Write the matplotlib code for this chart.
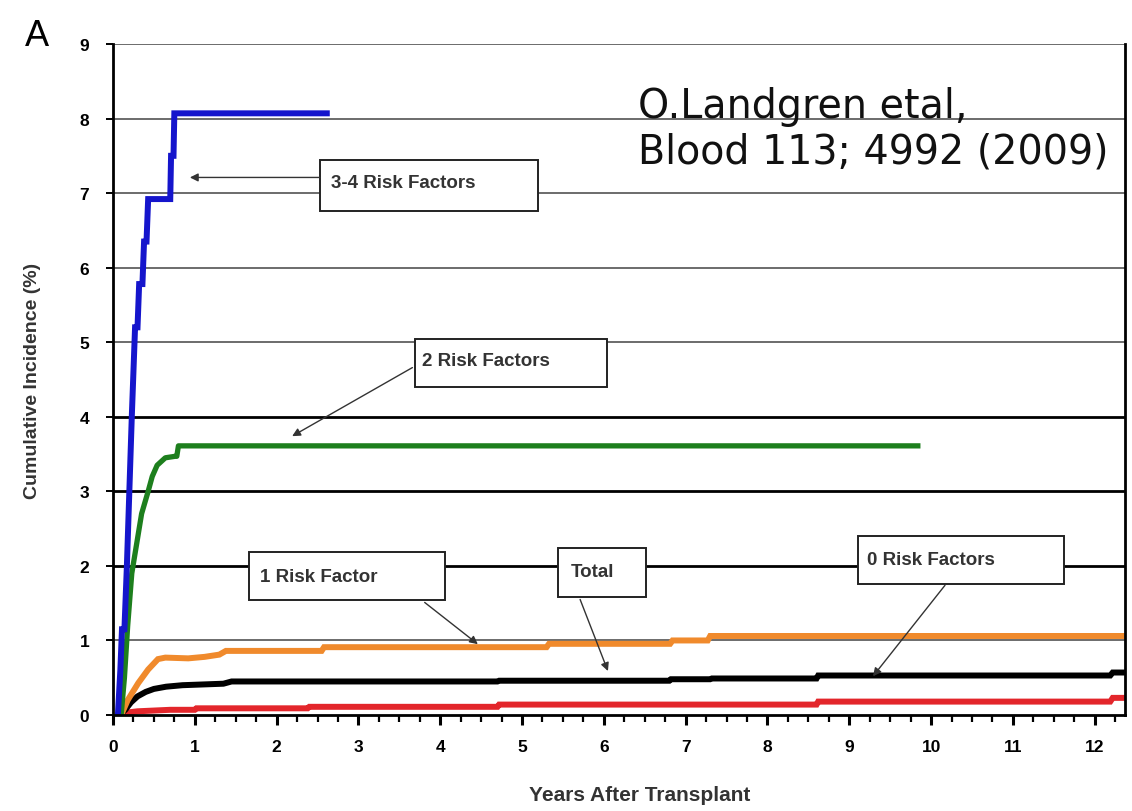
import numpy as np
import matplotlib
matplotlib.use('Agg')
import matplotlib.pyplot as plt
from matplotlib.patches import Rectangle
from matplotlib.ticker import MultipleLocator

# cumulative incidence (%) by years after transplant
rf34_t = [0.06, 0.09, 0.11, 0.14, 0.17, 0.20, 0.23, 0.27, 0.30, 0.32, 0.36, 0.38, 0.41, 0.43, 0.70, 0.71, 0.74, 0.75, 2.65]
rf34_y = [0.0, 0.6, 1.15, 1.15, 2.0, 3.0, 4.0, 5.2, 5.2, 5.78, 5.78, 6.35, 6.35, 6.92, 6.92, 7.5, 7.5, 8.07, 8.07]

rf2_t = [0.10, 0.14, 0.18, 0.23, 0.29, 0.35, 0.43, 0.48, 0.54, 0.64, 0.76, 0.78, 0.80, 9.87]
rf2_y = [0.0, 0.5, 1.2, 1.9, 2.3, 2.7, 3.0, 3.2, 3.35, 3.45, 3.47, 3.47, 3.61, 3.61]

rf1_t = [0.10, 0.18, 0.31, 0.43, 0.55, 0.64, 0.92, 1.12, 1.30, 1.38, 2.55, 2.58, 5.30, 5.33, 6.81, 6.84, 7.27, 7.30, 12.37]
rf1_y = [0.0, 0.2, 0.43, 0.61, 0.75, 0.77, 0.76, 0.78, 0.81, 0.86, 0.86, 0.91, 0.91, 0.955, 0.955, 1.0, 1.0, 1.06, 1.06]

tot_t = [0.08, 0.15, 0.22, 0.30, 0.40, 0.50, 0.65, 0.85, 1.10, 1.35, 1.45, 4.70, 4.72, 6.80, 6.82, 7.30, 7.32, 8.60, 8.62, 12.19, 12.22, 12.37]
tot_y = [0.0, 0.07, 0.17, 0.25, 0.31, 0.35, 0.38, 0.40, 0.41, 0.42, 0.45, 0.45, 0.46, 0.46, 0.48, 0.48, 0.49, 0.49, 0.53, 0.53, 0.57, 0.57]

rf0_t = [0.08, 0.15, 0.30, 0.70, 1.00, 1.02, 2.38, 2.40, 4.70, 4.72, 8.60, 8.62, 12.19, 12.22, 12.37]
rf0_y = [0.0, 0.03, 0.05, 0.07, 0.07, 0.09, 0.09, 0.11, 0.11, 0.14, 0.14, 0.18, 0.18, 0.23, 0.23]

x_ticks = list(range(0, 13))
y_ticks = list(range(0, 10))

bold_font = ['Liberation Sans', 'DejaVu Sans']

fig = plt.figure(figsize=(11.32, 8.12), dpi=100, facecolor='w')
ax = fig.add_axes([0.0998, 0.1182, 0.8940, 0.8264])
ax.set_xlim(0, 12.37)
ax.set_ylim(0, 9)

# horizontal reference lines, heavier at 2-4
for lvl in y_ticks[1:]:
    heavy = lvl in (2, 3, 4)
    ax.axhline(lvl, color='k' if heavy else '#444444', lw=2.0 if heavy else 1.1, zorder=1)

kw = dict(lw=4.3, solid_capstyle='butt', solid_joinstyle='miter', zorder=3)
ax.plot(rf0_t, rf0_y, color='#e3262b', **kw)
ax.plot(tot_t, tot_y, color='#000000', **kw)
ax.plot(rf1_t, rf1_y, color='#f08a2c', **kw)
ax.plot(rf2_t, rf2_y, color='#1d7f1d', lw=3.8, solid_capstyle='butt', zorder=3)
ax.plot(rf34_t, rf34_y, color='#1515cc', **kw)


def label_box(text, x0, y0, x1, y1, tx, ty, start, tip):
    ax.add_patch(Rectangle((x0, y0), x1 - x0, y1 - y0, facecolor='w', edgecolor='#222222',
                           lw=1.4, zorder=4))
    ax.text(tx, ty, text, family=bold_font, fontweight='bold', fontsize=13.5, color='#333333',
            ha='left', va='center', zorder=5)
    ax.annotate('', xy=tip, xytext=start, zorder=6,
                arrowprops=dict(arrowstyle='-|>', color='#333333', lw=1.0,
                                mutation_scale=12, shrinkA=0, shrinkB=0))


label_box('3-4 Risk Factors', 2.53, 6.76, 5.20, 7.45, 2.66, 7.14, (2.53, 7.21), (0.94, 7.21))
label_box('2 Risk Factors', 3.69, 4.40, 6.04, 5.04, 3.78, 4.75, (3.66, 4.66), (2.19, 3.74))
label_box('1 Risk Factor', 1.66, 1.54, 4.06, 2.18, 1.80, 1.86, (3.81, 1.51), (4.46, 0.95))
label_box('Total', 5.44, 1.58, 6.52, 2.24, 5.60, 1.92, (5.71, 1.55), (6.05, 0.59))
label_box('0 Risk Factors', 9.11, 1.76, 11.63, 2.40, 9.22, 2.09, (10.17, 1.74), (9.29, 0.52))

ax.text(6.42, 8.44, 'O.Landgren etal,\nBlood 113; 4992 (2009)', fontsize=28.5,
        family='DejaVu Sans', color='#111111', ha='left', va='top', linespacing=1.2,
        zorder=5, clip_on=True)

ax.set_xticks(x_ticks)
ax.set_yticks(y_ticks)
ax.xaxis.set_minor_locator(MultipleLocator(0.25))
ax.tick_params(axis='both', which='major', direction='out', length=7, width=2.2,
               labelsize=12.5, pad=10)
ax.tick_params(axis='x', which='minor', direction='out', length=5, width=1.6)
ax.tick_params(axis='y', which='major', length=5, width=1.4, pad=12)
for lab in ax.get_xticklabels() + ax.get_yticklabels():
    lab.set_family(bold_font)
    lab.set_fontweight('bold')

ax.spines['top'].set_visible(False)
for side in ('left', 'right', 'bottom'):
    ax.spines[side].set_linewidth(2.0)
    ax.spines[side].set_zorder(7)

ax.set_xlabel('Years After Transplant', family=bold_font, fontweight='bold', fontsize=15,
              color='#333333')
ax.xaxis.set_label_coords(0.52, -0.105)
ax.set_ylabel('Cumulative Incidence (%)', family=bold_font, fontweight='bold', fontsize=14,
              color='#333333', labelpad=28)

fig.text(0.022, 0.955, 'A', fontsize=26, family='Liberation Sans', color='k', va='center')

fig.savefig('out.png', dpi=100, facecolor='w')
